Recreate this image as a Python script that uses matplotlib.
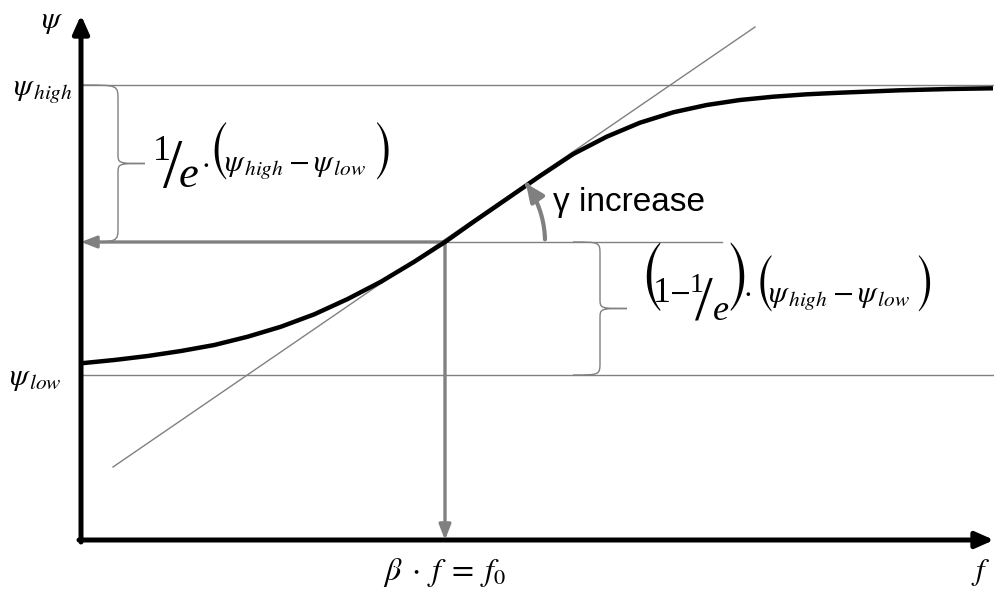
import numpy as np
import matplotlib.pyplot as plt
from matplotlib.path import Path
from matplotlib.patches import PathPatch, FancyArrowPatch

plt.rcParams['mathtext.fontset'] = 'stix'
plt.rcParams['font.family'] = ['Liberation Serif', 'DejaVu Serif']

# response curve (arbitrary units)
f_curve = [0.00, 0.333, 0.667, 1.00, 1.333, 1.667, 2.00, 2.333, 2.667, 3.00, 3.333, 3.64,
           3.923, 4.257, 4.59, 4.923, 5.257, 5.59, 5.923, 6.257, 6.59, 6.923, 7.257, 7.59,
           7.89, 8.19, 8.69, 9.12]
psi_curve = [1.767, 1.80, 1.84, 1.89, 1.95, 2.033, 2.133, 2.257, 2.41, 2.583, 2.783, 2.98,
             3.18, 3.41, 3.64, 3.86, 4.033, 4.173, 4.277, 4.35, 4.40, 4.433, 4.457, 4.473,
             4.485, 4.497, 4.51, 4.517]

psi_low = 1.65
psi_high = 4.55
f0 = 3.64
psi_f0 = 2.98

# tangent at the inflection point
tangent_f = [0.32, 6.74]
tangent_psi = [0.73, 5.13]

f_max = 9.13      # end of the f axis
psi_max = 5.25    # end of the psi axis
f_level_end = 6.41

GRAY = '#808080'
SERIF = ['Liberation Serif', 'DejaVu Serif']
BIGPAREN = ['STIXSizeOneSym', 'DejaVu Serif']


def brace(ax, x0, xm, xt, y_top, y_bot, r=0.15, rt=0.1):
    yc = (y_top + y_bot) / 2
    verts = [(x0, y_top),
             (xm, y_top), (xm, y_top), (xm, y_top - r),
             (xm, yc + rt),
             (xm, yc), (xm, yc), (xt, yc),
             (xm, yc), (xm, yc), (xm, yc - rt),
             (xm, y_bot + r),
             (xm, y_bot), (xm, y_bot), (x0, y_bot)]
    codes = ([Path.MOVETO] + [Path.CURVE4] * 3 + [Path.LINETO] + [Path.CURVE4] * 6
             + [Path.LINETO] + [Path.CURVE4] * 3)
    ax.add_patch(PathPatch(Path(verts, codes), fc='none', ec=GRAY, lw=1.0))


def arrow(ax, start, end, color, lw, head_len, head_w, ms=10):
    ax.annotate('', xy=end, xytext=start,
                arrowprops=dict(arrowstyle=f'-|>,head_length={head_len},head_width={head_w}',
                                mutation_scale=ms, lw=lw, color=color,
                                shrinkA=0, shrinkB=0))


def txt(ax, x_px, y_px, s, size, **kw):
    # place text by its left/baseline point given in figure pixels
    kw.setdefault('ha', 'left')
    kw.setdefault('va', 'baseline')
    ax.text((x_px - 81) / 100, (540 - y_px) / 100, s, fontsize=size, **kw)


fig = plt.figure(figsize=(9.94, 5.90), dpi=100)
ax = fig.add_axes([0, 0, 1, 1])
ax.set_xlim(-0.81, 9.13)
ax.set_ylim(-0.50, 5.40)
ax.axis('off')

# reference levels
ax.plot([0, f_max], [psi_high, psi_high], color=GRAY, lw=1.0)
ax.plot([0, f_max], [psi_low, psi_low], color=GRAY, lw=1.0)
ax.plot([f0, f_level_end], [psi_f0, psi_f0], color=GRAY, lw=1.0)

# tangent
ax.plot(tangent_f, tangent_psi, color=GRAY, lw=1.0)

# thick gray arrows from the inflection point
arrow(ax, (f0, psi_f0), (0.0, psi_f0), GRAY, 2.4, 0.9, 0.35)
arrow(ax, (f0, psi_f0), (f0, 0.0), GRAY, 2.4, 0.9, 0.35)

# curve
ax.plot(f_curve, psi_curve, color='black', lw=3.2, solid_capstyle='butt',
        solid_joinstyle='round', zorder=5)

# axes with arrows
arrow(ax, (0, -0.02), (0, psi_max), 'black', 3.6, 0.9, 0.4, ms=12)
arrow(ax, (-0.02, 0), (f_max, 0), 'black', 3.6, 0.9, 0.4, ms=12)

# braces
brace(ax, 0.02, 0.37, 0.64, psi_high, psi_f0, r=0.15, rt=0.1)
brace(ax, 4.92, 5.19, 5.46, psi_f0, psi_low, r=0.13, rt=0.1)

# gamma arc
slope_deg = np.degrees(np.arctan((tangent_psi[1] - tangent_psi[0]) / (tangent_f[1] - tangent_f[0])))
theta = np.radians(np.linspace(1.5, slope_deg + 1.5, 40))
R = 1.0
arc = Path(np.column_stack([f0 + R * np.cos(theta), psi_f0 + R * np.sin(theta)]))
ax.add_patch(FancyArrowPatch(path=arc, arrowstyle='-|>,head_length=0.9,head_width=0.4',
                             mutation_scale=12, lw=3.0, color=GRAY, zorder=6))

txt(ax, 553, 211, '\u03b3 increase', 24, family=['Liberation Sans', 'DejaVu Sans'])

# axis labels
ax.text(-0.29, 5.18, r'$\psi$', fontsize=22, ha='center', va='center')
ax.text(9.00, -0.32, r'$f$', fontsize=22, ha='center', va='center')
ax.text(3.64, -0.40, r'$\beta\;\cdot\;f\;=\;f_0$', fontsize=23, ha='center', va='baseline')
txt(ax, 73, 95, r'$\psi_{\,high}$', 22, ha='right')
txt(ax, 62, 385, r'$\psi_{\,low}$', 22, ha='right')

# 1/e * (psi_high - psi_low)
txt(ax, 153, 160, '1', 26, family=SERIF)
txt(ax, 163, 187, '/', 50, family=SERIF)
txt(ax, 179, 187, 'e', 32, family=SERIF, style='italic')
txt(ax, 201, 171, r'$\cdot$', 22)
txt(ax, 207, 171, '(', 34, family=BIGPAREN)
txt(ax, 224, 171, r'$\psi_{\,high}-\psi_{\,low}$', 22)
txt(ax, 373, 171, ')', 34, family=BIGPAREN)

# (1 - 1/e) * (psi_high - psi_low)
txt(ax, 638, 302, '(', 40, family=BIGPAREN)
txt(ax, 653, 302, '1', 26, family=SERIF)
txt(ax, 669, 300, r'$-$', 22)
txt(ax, 690, 292, '1', 20, family=SERIF)
txt(ax, 695, 319, '/', 46, family=SERIF)
txt(ax, 713, 320, 'e', 26, family=SERIF, style='italic')
txt(ax, 725, 302, ')', 40, family=BIGPAREN)
txt(ax, 743, 300, r'$\cdot$', 22)
txt(ax, 754, 303, '(', 33, family=BIGPAREN)
txt(ax, 768, 302, r'$\psi_{\,high}-\psi_{\,low}$', 22)
txt(ax, 914, 303, ')', 33, family=BIGPAREN)

fig.savefig('out.png', dpi=100)
